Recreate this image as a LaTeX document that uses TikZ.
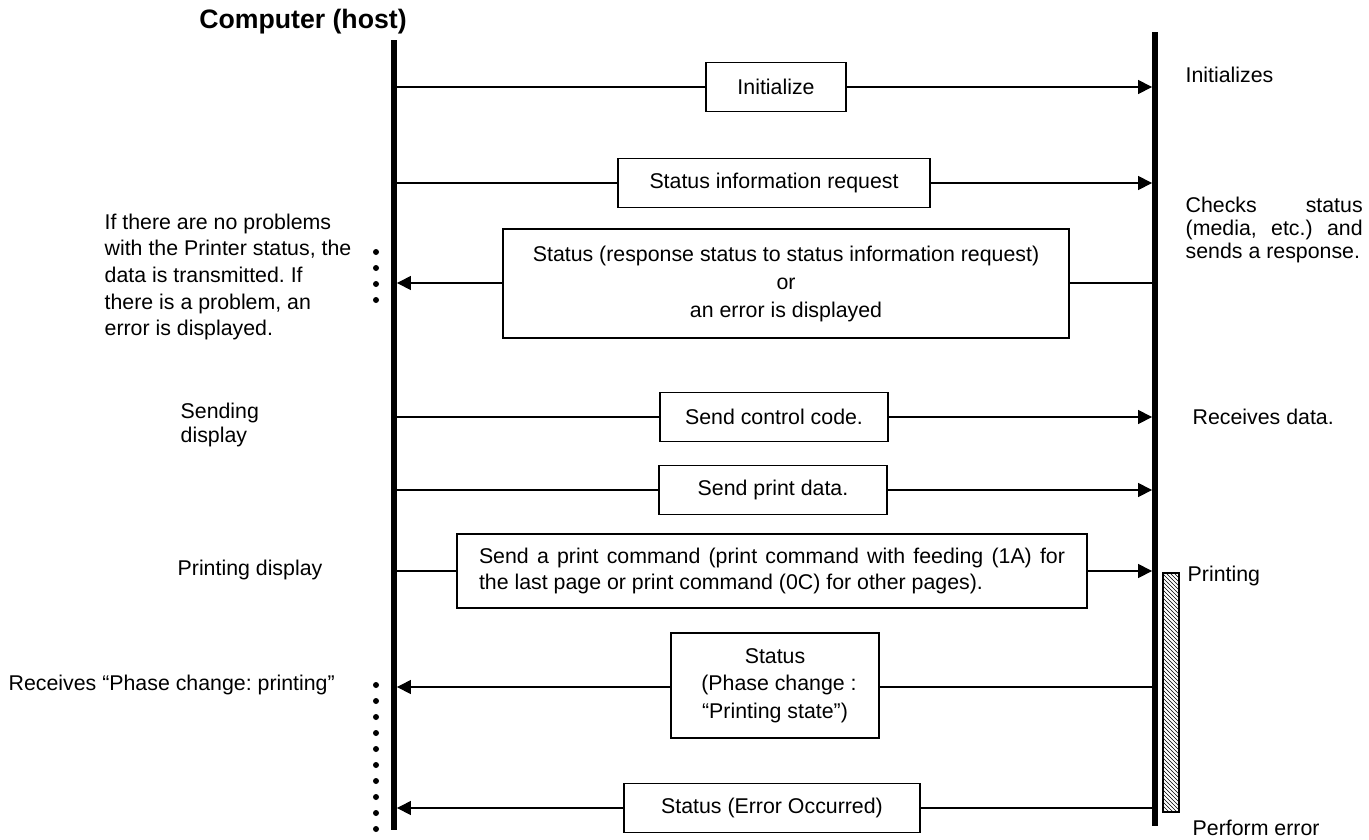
\documentclass[tikz,border=0pt]{standalone}
\usepackage{fontspec}
\setmainfont{Liberation Sans}
\usetikzlibrary{arrows.meta, patterns}
\frenchspacing

\begin{document}
\begin{tikzpicture}[x=0.75pt, y=-0.75pt, line width=1pt,
    font=\fontsize{16}{20}\selectfont,
    lifeline/.style={line width=4.5pt},
    msg/.style={-{Triangle[length=10.5pt, width=10.5pt]}, shorten >=2.2pt},
    msgbox/.style={draw, fill=white, line width=1.2pt, inner sep=0pt, minimum height=36.75pt, align=center},
    note/.style={anchor=west, inner sep=0pt, align=left}]

    \useasboundingbox (0,0) rectangle (1369,839);

    % draw title
    \node[font=\fontsize{20}{24}\selectfont\bfseries] (host) at (303,22) {Computer (host)};

    % draw lifelines
    \coordinate (hostTop) at (394,40);
    \coordinate (hostBot) at (394,830);
    \coordinate (prnTop) at (1155,32);
    \coordinate (prnBot) at (1155,826);
    \draw[lifeline] (hostTop) -- (hostBot);
    \draw[lifeline] (prnTop) -- (prnBot);

    % draw printing bar
    \draw[pattern=north west lines, line width=0.8pt] (1163,573) rectangle (1179,812);

    % draw messages
    \coordinate (h1) at (394,87);  \coordinate (p1) at (1155,87);
    \coordinate (h2) at (394,183); \coordinate (p2) at (1155,183);
    \coordinate (h3) at (394,283); \coordinate (p3) at (1155,283);
    \coordinate (h4) at (394,417); \coordinate (p4) at (1155,417);
    \coordinate (h5) at (394,490); \coordinate (p5) at (1155,490);
    \coordinate (h6) at (394,571); \coordinate (p6) at (1155,571);
    \coordinate (h7) at (394,687); \coordinate (p7) at (1155,687);
    \coordinate (h8) at (394,808); \coordinate (p8) at (1155,808);

    \draw[msg] (h1) -- (p1);
    \draw[msg] (h2) -- (p2);
    \draw[msg] (p3) -- (h3);
    \draw[msg] (h4) -- (p4);
    \draw[msg] (h5) -- (p5);
    \draw[msg] (h6) -- (p6);
    \draw[msg] (p7) -- (h7);
    \draw[msg] (p8) -- (h8);

    % draw message boxes
    \node[msgbox, minimum width=105pt] (initbox) at (776,87) {Initialize};
    \node[msgbox, minimum width=234pt] (reqbox) at (774,183) {Status information request};
    \node[msgbox, minimum width=424.5pt, minimum height=81.75pt, font=\fontsize{16}{21}\selectfont] (respbox) at (786,283.5)
        {Status (response status to status information request)\\or\\an error is displayed};
    \node[msgbox, minimum width=171pt] (ctrlbox) at (774,417) {Send control code.};
    \node[msgbox, minimum width=171pt] (databox) at (773,490) {Send print data.};
    \node[msgbox, inner xsep=16.5pt, text width=439.5pt, minimum height=55.5pt, align=justify, font=\fontsize{16}{19}\selectfont] (cmdbox) at (772,571)
        {Send a print command (print command with feeding (1A) for\linebreak the last page or print command (0C) for other pages).};
    \node[msgbox, minimum width=156pt, minimum height=78.75pt, font=\fontsize{16}{20.6}\selectfont] (phasebox) at (775,685.5)
        {Status\\\hspace*{6pt}(Phase change :\\“Printing state”)};
    \node[msgbox, minimum width=222pt] (errbox) at (772,808) {Status (Error Occurred)};

    % draw waiting dots
    \fill (376,252) circle (2.25pt) (376,268) circle (2.25pt) (376,284) circle (2.25pt) (376,300) circle (2.25pt);
    \fill (376,685) circle (2.25pt) (376,701) circle (2.25pt) (376,717) circle (2.25pt) (376,733) circle (2.25pt)
          (376,749) circle (2.25pt) (376,765) circle (2.25pt) (376,781) circle (2.25pt) (376,797) circle (2.25pt)
          (376,813) circle (2.25pt) (376,829) circle (2.25pt);

    % draw host notes
    \node[note] (checknote) at (104,277) {If there are no problems\\with the Printer status, the\\data is transmitted. If\\there is a problem, an\\error is displayed.};
    \node[note, font=\fontsize{16}{18}\selectfont] (sendnote) at (180,425) {Sending\\display};
    \node[note] (printnote) at (177,570) {Printing display};
    \node[note] (phasenote) at (8,685) {Receives “Phase change: printing”};

    % draw printer notes
    \node[note] (initnote) at (1185,75) {Initializes};
    \node[note, text width=132.75pt, align=justify, font=\fontsize{16}{17.5}\selectfont] (statnote) at (1185,230)
        {Checks status\linebreak (media, etc.) and\linebreak sends a response.};
    \node[note] (recvnote) at (1192,417) {Receives data.};
    \node[note] (prtnote) at (1187,576) {Printing};
    \node[note] (errnote) at (1192,828) {Perform error};
\end{tikzpicture}
\end{document}
